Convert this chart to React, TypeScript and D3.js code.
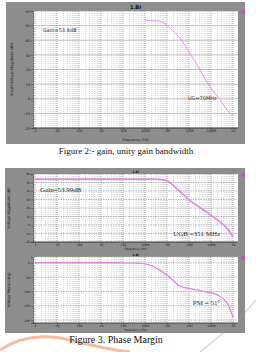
import React, { useEffect, useRef } from 'react'
import * as d3 from 'd3'

// x axis: frequency decades
const xTickValues = [1, 1e1, 1e2, 1e3, 1e4, 1e5, 1e6, 1e7, 1e8, 1e9]
const xTickLabels = ['1', '10', '100', '1K', '10K', '100K', '1M', '10M', '100M', '1G']

// Figure 2: gain (dB)
const gainFreq = [1e5, 3.4e5, 6.8e5, 1.4e6, 3.9e6, 1.1e7, 3.2e7, 8.9e7, 2.6e8, 7.2e8, 1e9]
const gainDb = [53.4, 53.4, 52.0, 48.2, 41.3, 31.1, 19.7, 8.3, -0.7, -9.8, -11.1]

// Figure 3 (top): magnitude (dB)
const magFreq = [1, 10, 100, 1e3, 1e4, 1e5, 3.2e5, 8.9e5, 3.2e6, 1.2e7, 5.4e7, 1.5e8, 7.2e8, 1e9]
const magDb = [53.99, 53.99, 53.99, 53.99, 53.99, 53.99, 53.9, 52.5, 41.2, 28.2, 16.5, 8.2, -8.2, -14]

// Figure 3 (bottom): phase (deg)
const phaseFreq = [1, 10, 100, 1e3, 1e4, 4.4e4, 1.7e5, 1e6, 3.9e6, 1.5e7, 6.6e7, 1.9e8, 5.4e8, 1e9]
const phaseDeg = [0, 0, 0, 0, -0.2, -1, -8, -43, -81, -92, -102, -112, -140, -189]

const dbTicks = [-20, -10, 0, 10, 20, 30, 40, 50, 60]
const phaseTicks = [-200, -150, -100, -50, 0]

const W = 256
const H = 352
const GREY = '#8d8d8d'
const PINK = '#e486e4'

type Note = { text: string; fx: number; fy: number; size: number; font: string }
type Panel = {
  left: number; right: number; top: number; bottom: number
  yDomain: [number, number]; yTicks: number[]; yMinor: number
  title: string; titleSize: number; yLabel: string; xLabelY: number
  freq: number[]; vals: number[]; strokeWidth: number
  notes: Note[]
}

const panels: Panel[] = [
  {
    left: 33, right: 238, top: 11, bottom: 128,
    yDomain: [-20, 60], yTicks: dbTicks, yMinor: 2,
    title: '1.BI', titleSize: 5, yLabel: 'V(out) Voltage Magnitude (dB)', xLabelY: 141,
    freq: gainFreq, vals: gainDb, strokeWidth: 0.9,
    notes: [
      { text: 'Gain=53.9dB', fx: 2.3, fy: 45.6, size: 5, font: 'DejaVu Sans' },
      { text: 'UG=70MHz', fx: 8.9e6, fy: -0.9, size: 5, font: 'DejaVu Sans' },
    ],
  },
  {
    left: 33, right: 238, top: 174, bottom: 242,
    yDomain: [-20, 60], yTicks: dbTicks, yMinor: 2,
    title: '1.BI', titleSize: 3, yLabel: 'Voltage Magnitude (dB)', xLabelY: 250,
    freq: magFreq, vals: magDb, strokeWidth: 1.6,
    notes: [
      { text: 'Gain=53.99dB', fx: 1.7, fy: 38.8, size: 7, font: 'Liberation Serif' },
      { text: 'UGB =351 MHz', fx: 1.9e6, fy: -12.9, size: 7, font: 'Liberation Serif' },
    ],
  },
  {
    left: 33, right: 238, top: 257, bottom: 323,
    yDomain: [-210, 20], yTicks: phaseTicks, yMinor: 10,
    title: '1.BI', titleSize: 3, yLabel: 'Voltage Phase (deg)', xLabelY: 331,
    freq: phaseFreq, vals: phaseDeg, strokeWidth: 1.3,
    notes: [
      { text: 'PM = 51°', fx: 1.5e7, fy: -147, size: 7, font: 'Liberation Serif' },
    ],
  },
]

function drawPanel(svg: d3.Selection<SVGSVGElement, unknown, null, undefined>, p: Panel, idx: number) {
  const x = d3.scaleLog().domain([1, 1e9]).range([35, 233])
  const y = d3.scaleLinear().domain(p.yDomain).range([p.bottom, p.top])
  const g = svg.append('g')
  const small = idx === 0 ? 3.5 : 3

  g.append('rect')
    .attr('x', p.left).attr('y', p.top)
    .attr('width', p.right - p.left).attr('height', p.bottom - p.top)
    .attr('fill', '#fff')

  // minor vertical grid (log)
  const minorX: number[] = []
  for (let d = 0; d < 10; d++) {
    for (let k = 2; k <= 9; k++) {
      const v = k * Math.pow(10, d)
      if (x(v) < p.right - 0.5) minorX.push(v)
    }
  }
  g.selectAll('.vminor').data(minorX).enter().append('line')
    .attr('x1', d => x(d)).attr('x2', d => x(d))
    .attr('y1', p.top).attr('y2', p.bottom)
    .attr('stroke', '#b5b5b5').attr('stroke-width', 0.5)
    .attr('stroke-dasharray', '1,1')

  // minor horizontal grid
  const minorY = d3.range(p.yDomain[0], p.yDomain[1] + 0.01, p.yMinor)
    .filter(v => !p.yTicks.includes(v))
  g.selectAll('.hminor').data(minorY).enter().append('line')
    .attr('x1', p.left).attr('x2', p.right)
    .attr('y1', d => y(d)).attr('y2', d => y(d))
    .attr('stroke', '#e2e2e2').attr('stroke-width', 0.4)
    .attr('stroke-dasharray', '1,1')

  // major grid
  g.selectAll('.vmajor').data(xTickValues).enter().append('line')
    .attr('x1', d => x(d)).attr('x2', d => x(d))
    .attr('y1', p.top).attr('y2', p.bottom)
    .attr('stroke', '#777').attr('stroke-width', 0.6)
    .attr('stroke-dasharray', '1,1')
  g.selectAll('.hmajor').data(p.yTicks).enter().append('line')
    .attr('x1', p.left).attr('x2', p.right)
    .attr('y1', d => y(d)).attr('y2', d => y(d))
    .attr('stroke', idx === 0 ? '#9a9a9a' : '#888').attr('stroke-width', 0.6)
    .attr('stroke-dasharray', idx === 0 ? null : '1.5,1')

  // axis ticks along the left side
  const yAxis = d3.axisLeft(y).tickValues(p.yTicks).tickSize(2).tickPadding(1)
    .tickFormat(d => String(d))
  const ya = g.append('g').attr('transform', `translate(${p.left},0)`).call(yAxis)
  ya.select('.domain').attr('stroke', '#333').attr('stroke-width', 0.6)
  ya.selectAll('text').attr('font-size', small).attr('font-family', 'DejaVu Sans').attr('fill', '#222')
  ya.selectAll('line').attr('stroke', '#333').attr('stroke-width', 0.5)
  g.selectAll('.yminortick').data(minorY).enter().append('line')
    .attr('x1', p.left).attr('x2', p.left + 1.5)
    .attr('y1', d => y(d)).attr('y2', d => y(d))
    .attr('stroke', '#444').attr('stroke-width', 0.4)

  const xAxis = d3.axisBottom(x).tickValues(xTickValues).tickSize(1.5).tickPadding(0.5)
    .tickFormat((_, i) => xTickLabels[i])
  const xa = g.append('g').attr('transform', `translate(0,${p.bottom})`).call(xAxis)
  xa.select('.domain').remove()
  xa.selectAll('text').attr('font-size', small).attr('font-family', 'DejaVu Sans').attr('fill', '#222')
  xa.selectAll('line').attr('stroke', '#333').attr('stroke-width', 0.5)
  g.append('line')
    .attr('x1', p.left).attr('x2', p.right)
    .attr('y1', p.bottom).attr('y2', p.bottom)
    .attr('stroke', '#222').attr('stroke-width', 0.8)

  // curve
  const line = d3.line<number>()
    .x((_, i) => x(p.freq[i]))
    .y(d => y(d))
    .curve(d3.curveMonotoneX)
  g.append('path')
    .datum(p.vals)
    .attr('d', line)
    .attr('fill', 'none')
    .attr('stroke', PINK)
    .attr('stroke-width', p.strokeWidth)

  // legend marker
  g.append('rect')
    .attr('x', 241).attr('y', p.top - 1)
    .attr('width', 4).attr('height', 4)
    .attr('fill', '#c84fc8')

  // notes
  p.notes.forEach(n => {
    g.append('text')
      .attr('x', x(n.fx)).attr('y', y(n.fy))
      .attr('font-size', n.size)
      .attr('font-family', n.font)
      .attr('fill', '#333')
      .text(n.text)
  })

  // title
  g.append('text')
    .attr('x', (p.left + p.right) / 2).attr('y', p.top - (idx === 0 ? 2 : 0.8))
    .attr('text-anchor', 'middle')
    .attr('font-size', p.titleSize)
    .attr('font-weight', 'bold')
    .attr('font-family', 'DejaVu Sans')
    .attr('fill', '#111')
    .text(p.title)

  // axis labels
  g.append('text')
    .attr('x', (p.left + p.right) / 2).attr('y', p.xLabelY)
    .attr('text-anchor', 'middle')
    .attr('font-size', small)
    .attr('font-family', 'DejaVu Sans')
    .attr('fill', '#222')
    .text('Frequency (Hz)')
  g.append('text')
    .attr('transform', `translate(${idx === 0 ? 13 : 10},${(p.top + p.bottom) / 2}) rotate(-90)`)
    .attr('text-anchor', 'middle')
    .attr('font-size', 3.5)
    .attr('font-family', 'DejaVu Sans')
    .attr('fill', '#222')
    .text(p.yLabel)
}

const App: React.FC = () => {
  const svgRef = useRef<SVGSVGElement>(null)

  useEffect(() => {
    const svg = d3.select(svgRef.current!)
    svg.selectAll('*').remove()
    svg.attr('width', W).attr('height', H)

    svg.append('rect').attr('width', W).attr('height', H).attr('fill', '#fff')

    // faint watermark strokes
    svg.append('path')
      .attr('d', 'M0,350 Q30,330 70,340 T130,352')
      .attr('fill', 'none').attr('stroke', '#f2a07a').attr('stroke-width', 3).attr('opacity', 0.7)
    svg.append('path')
      .attr('d', 'M200,352 Q240,320 256,300')
      .attr('fill', 'none').attr('stroke', '#ddd').attr('stroke-width', 2)

    // grey plot frames
    svg.append('rect').attr('x', 6).attr('y', 2).attr('width', 239).attr('height', 142).attr('fill', GREY)
    svg.append('rect').attr('x', 5).attr('y', 168).attr('width', 240).attr('height', 165).attr('fill', GREY)

    panels.forEach((p, i) => drawPanel(svg, p, i))

    // captions
    svg.append('text')
      .attr('x', 126).attr('y', 154)
      .attr('text-anchor', 'middle')
      .attr('font-size', 9)
      .attr('font-family', 'Liberation Serif')
      .attr('fill', '#111')
      .text('Figure 2:- gain, unity gain bandwidth')
    svg.append('text')
      .attr('x', 116).attr('y', 343)
      .attr('text-anchor', 'middle')
      .attr('font-size', 10)
      .attr('font-family', 'Liberation Serif')
      .attr('fill', '#111')
      .text('Figure 3. Phase Margin')
  }, [])

  return <svg ref={svgRef} style={{ position: 'absolute', left: 0, top: 0, display: 'block' }} />
}

export default App
